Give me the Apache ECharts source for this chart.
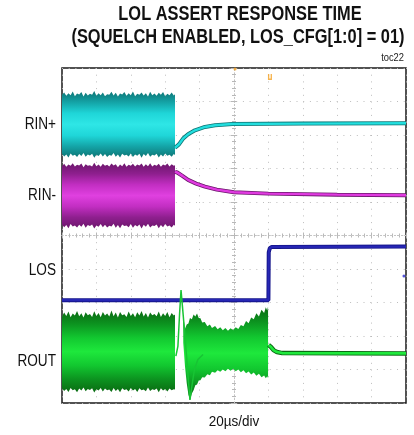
<!DOCTYPE html>
<html>
<head>
<meta charset="utf-8">
<script src="https://cdn.jsdelivr.net/npm/echarts@6/dist/echarts.min.js"></script>
<style>
  html, body { margin: 0; padding: 0; background: #fff; }
  #chart { width: 414px; height: 435px; }
</style>
</head>
<body>
<div id="chart"></div>
<script>
// Time axis: microseconds relative to the trigger (20 µs/div, 10 div)
// Vertical axis: screen divisions (centre line = 0)
const tickStep = 20;

// Noisy input bands before the input is removed
const bandT = [-100,-98.75,-97.5,-96.25,-95,-93.75,-92.5,-91.25,-90,-88.75,-87.5,-86.25,-85,-83.75,-82.5,-81.25,-80,-78.75,-77.5,-76.25,-75,-73.75,-72.5,-71.25,-70,-68.75,-67.5,-66.25,-65,-63.75,-62.5,-61.25,-60,-58.75,-57.5,-56.25,-55,-53.75,-52.5,-51.25,-50,-48.75,-47.5,-46.25,-45,-43.75,-42.5,-41.25,-40,-38.75,-37.5,-36.25,-35,-34.3];
const rinPTop = [4.2,4.27,4.17,4.25,4.19,4.3,4.16,4.24,4.21,4.28, 4.15,4.26,4.18,4.23,4.2,4.31,4.17,4.25,4.19,4.27, 4.16,4.22,4.2,4.29,4.18,4.26,4.15,4.24,4.21,4.28, 4.17,4.25,4.19,4.3,4.16,4.23,4.2,4.27,4.18,4.25, 4.15,4.29,4.19,4.24,4.17,4.26,4.2,4.28,4.16,4.23, 4.19,4.27,4.18,4.22];
const rinPBot = [2.44,2.36,2.42,2.33,2.45,2.38,2.41,2.34,2.43,2.37, 2.46,2.35,2.42,2.39,2.44,2.32,2.41,2.37,2.45,2.36, 2.43,2.34,2.4,2.38,2.46,2.35,2.42,2.33,2.44,2.39, 2.41,2.36,2.45,2.34,2.42,2.38,2.44,2.32,2.43,2.37, 2.46,2.35,2.41,2.39,2.44,2.33,2.42,2.36,2.45,2.38, 2.41,2.35,2.43,2.4];
const rinMTop = [2.07,2.14,2.05,2.12,2.08,2.16,2.06,2.11,2.09,2.15, 2.04,2.13,2.08,2.1,2.06,2.17,2.07,2.12,2.05,2.14, 2.08,2.11,2.06,2.15,2.09,2.13,2.04,2.12,2.07,2.16, 2.05,2.11,2.08,2.14,2.06,2.12,2.09,2.15,2.05,2.13, 2.07,2.16,2.06,2.11,2.08,2.14,2.05,2.12,2.09,2.15, 2.06,2.13,2.08,2.1];
const rinMBot = [0.33,0.25,0.31,0.22,0.34,0.27,0.3,0.24,0.32,0.26, 0.35,0.23,0.31,0.28,0.33,0.21,0.3,0.26,0.34,0.25, 0.32,0.24,0.29,0.27,0.35,0.23,0.31,0.22,0.33,0.28, 0.3,0.25,0.34,0.23,0.31,0.27,0.33,0.21,0.32,0.26, 0.35,0.24,0.3,0.28,0.33,0.22,0.31,0.25,0.34,0.27, 0.3,0.24,0.32,0.29];
const routTop = [-2.42,-2.3,-2.4,-2.27,-2.44,-2.33,-2.39,-2.25,-2.41,-2.32, -2.45,-2.29,-2.38,-2.34,-2.43,-2.26,-2.4,-2.31,-2.44,-2.28, -2.39,-2.33,-2.42,-2.24,-2.41,-2.3,-2.45,-2.28,-2.38,-2.35, -2.43,-2.27,-2.4,-2.32,-2.44,-2.29,-2.39,-2.25,-2.42,-2.31, -2.45,-2.3,-2.38,-2.34,-2.41,-2.27,-2.43,-2.32,-2.4,-2.28, -2.44,-2.31,-2.39,-2.36];
const routBot = [-4.56,-4.64,-4.58,-4.67,-4.55,-4.62,-4.59,-4.68,-4.57,-4.63, -4.54,-4.65,-4.58,-4.61,-4.56,-4.69,-4.59,-4.63,-4.55,-4.66, -4.57,-4.62,-4.6,-4.67,-4.55,-4.64,-4.58,-4.68,-4.56,-4.61, -4.59,-4.66,-4.55,-4.63,-4.58,-4.67,-4.56,-4.62,-4.6,-4.65, -4.54,-4.64,-4.59,-4.61,-4.57,-4.68,-4.56,-4.63,-4.58,-4.66, -4.57,-4.62,-4.59,-4.6];

// Settling of the inputs after the signal is removed
const rinPAfter = [[-34.3,2.62],[-33.5,2.58],[-32,2.72],[-29.5,2.9],[-26.7,3.02],[-22.7,3.14],[-16.9,3.24],[-11,3.29],[-1,3.33],[40,3.34],[100,3.35]];
const rinMAfter = [[-34.3,1.9],[-33,1.88],[-30,1.78],[-26.7,1.66],[-22,1.55],[-16.9,1.46],[-10,1.37],[0,1.29],[20,1.25],[60,1.22],[100,1.2]];

// LOS output
const losTrace = [[-100,-1.93],[20,-1.93],[20.2,-0.5],[20.8,-0.38],[22,-0.34],[100,-0.33]];
const losMarker = [[98.8,-1.21]];

// ROUT: transient when the input disappears, ringing, then squelched level
const routSpike = [[-33.8,-3.6],[-32.6,-3.3],[-31.6,-2.3],[-30.8,-1.63],[-30,-2.1],[-28.5,-3.0],[-26.7,-4.2],[-25.6,-4.91],[-24.5,-4.5],[-23,-4.0],[-21,-3.7],[-18,-3.55]];
const ringT = [-29.5,-28.5,-27.5,-26.5,-25.6,-24.5,-23.5,-22.5,-21.5,-20.5,-19.5,-18.5,-17,-15.5,-14,-12.8,-11,-9.5,-8,-6.5,-5,-3.5,-2,-0.5,1,2.5,4,5.5,7,8.5,10,11.5,13,14.5,16,17.5,18.5,19.3,19.8];
const ringTop = [-2.4,-2.78,-2.66,-2.63,-2.46,-2.5,-2.36,-2.42,-2.33,-2.46, -2.47,-2.6,-2.58,-2.71,-2.66,-2.76,-2.7,-2.8,-2.74,-2.83, -2.76,-2.84,-2.77,-2.83,-2.74,-2.79,-2.67,-2.71,-2.55,-2.62, -2.45,-2.5,-2.32,-2.42,-2.22,-2.31,-2.14,-2.24,-2.12];
const ringBot = [-3.2,-3.9,-4.4,-4.75,-4.91,-4.72,-4.62,-4.47,-4.45,-4.33, -4.32,-4.23,-4.24,-4.14,-4.17,-4.07,-4.1,-4.02,-4.07,-4.0, -4.05,-3.98,-4.04,-3.98,-4.05,-4.0,-4.08,-4.02,-4.11,-4.06, -4.15,-4.09,-4.19,-4.13,-4.23,-4.18,-4.26,-4.2,-4.25];
const routAfter = [[20.1,-3.27],[21.5,-3.33],[23,-3.42],[25,-3.48],[28,-3.51],[100,-3.52]];

// Trigger markers along the top of the screen
const trigPos = [[0.6,4.97]];
const trigLevel = [[20.9,4.73]];

const chart = echarts.init(document.getElementById('chart'), null, { renderer: 'canvas' });

function grad(stops) {
  return new echarts.graphic.LinearGradient(0, 0, 0, 1,
    stops.map((c, i) => ({ offset: i / (stops.length - 1), color: c })));
}

function band(t, top, bot, colors, z) {
  return {
    type: 'custom',
    coordinateSystem: 'cartesian2d',
    silent: true,
    z: z,
    data: [[t[0], top[0]]],
    renderItem: function (params, api) {
      const pts = [];
      for (let i = 0; i < t.length; i++) pts.push(api.coord([t[i], top[i]]));
      for (let i = t.length - 1; i >= 0; i--) pts.push(api.coord([t[i], bot[i]]));
      return { type: 'polygon', shape: { points: pts }, style: { fill: grad(colors), stroke: null } };
    }
  };
}

function trace(data, color, width, z) {
  return {
    type: 'line', data: data, showSymbol: false, silent: true, z: z,
    lineStyle: { color: color, width: width }, animation: false
  };
}

const cyanStops = ['#0e7474', '#14a3a6', '#1fd6d8', '#2ee6e6', '#1fd6d8', '#14a3a6', '#0e7474'];
const magStops = ['#6c176c', '#8e1f8e', '#c22ec2', '#e040e0', '#c22ec2', '#8e1f8e', '#6c176c'];
const grnStops = ['#0a6a12', '#0c9420', '#12c830', '#1ee83c', '#12c830', '#0c9420', '#0a6a12'];

const axisCommon = {
  type: 'value',
  axisLabel: { show: false },
  splitLine: { show: true, lineStyle: { color: '#bdbdbd', width: 1, type: [1, 5.7] } },
  axisLine: { show: true, onZero: true, lineStyle: { color: '#c4c4c4', width: 1, type: [1, 2.5] } },
  axisTick: { show: true, length: 3, lineStyle: { color: '#b8b8b8' } },
  minorTick: { show: true, splitNumber: 5, length: 2, lineStyle: { color: '#b8b8b8' } }
};

const option = {
  animation: false,
  backgroundColor: '#ffffff',
  grid: { left: 62, top: 68, width: 344, height: 335, show: true, borderColor: '#1a1a1a', borderWidth: 1.5, backgroundColor: '#fff' },
  xAxis: [
    Object.assign({}, axisCommon, { min: -100, max: 100, interval: tickStep, position: 'bottom' }),
    Object.assign({}, axisCommon, { min: -100, max: 100, interval: tickStep, position: 'top', splitLine: { show: false } })
  ],
  yAxis: [
    Object.assign({}, axisCommon, { min: -5, max: 5, interval: 1, position: 'left' }),
    Object.assign({}, axisCommon, { min: -5, max: 5, interval: 1, position: 'right', splitLine: { show: false } })
  ],
  series: [
    band(bandT, rinPTop, rinPBot, cyanStops, 3),
    band(bandT, rinMTop, rinMBot, magStops, 3),
    band(bandT, routTop, routBot, grnStops, 3),
    band(ringT, ringTop, ringBot, grnStops, 3),
    trace(rinPAfter, '#0e7474', 4, 4),
    trace(rinPAfter, '#22dede', 2.4, 5),
    trace(rinMAfter, '#6c176c', 4, 4),
    trace(rinMAfter, '#e03ae0', 2.4, 5),
    trace(losTrace, '#14148a', 4, 4),
    trace(losTrace, '#2626b4', 2.2, 5),
    trace(routSpike, '#18c434', 1.5, 5),
    trace(routAfter, '#0a6a12', 4.5, 4),
    trace(routAfter, '#1ee83c', 2.6, 5),
    { type: 'scatter', data: losMarker, symbol: 'circle', symbolSize: 3, itemStyle: { color: '#2a2ad0' }, silent: true, z: 6 },
    { type: 'scatter', data: trigPos, symbol: 'circle', symbolSize: 3, itemStyle: { color: '#f4a020' }, silent: true, z: 6 },
    { type: 'scatter', data: trigLevel, symbol: 'path://M0,0 L2,0 L2,6 L4,6 L4,0 L6,0 L6,8 L0,8 Z', symbolSize: [4, 6], itemStyle: { color: '#f4a020' }, silent: true, z: 6 }
  ],
  graphic: [
    { type: 'text', x: 240, y: 14, scaleX: 0.82, style: { text: 'LOL ASSERT RESPONSE TIME', font: 'bold 20px "Liberation Sans", Arial, sans-serif', fill: '#111', textAlign: 'center', textVerticalAlign: 'middle' } },
    { type: 'text', x: 238, y: 37, scaleX: 0.82, style: { text: '(SQUELCH ENABLED, LOS_CFG[1:0] = 01)', font: 'bold 20px "Liberation Sans", Arial, sans-serif', fill: '#111', textAlign: 'center', textVerticalAlign: 'middle' } },
    { type: 'text', x: 404, y: 58, scaleX: 0.85, style: { text: 'toc22', font: '11px "Liberation Sans", Arial, sans-serif', fill: '#222', textAlign: 'right', textVerticalAlign: 'middle' } },
    { type: 'text', x: 56, y: 125, scaleX: 0.85, style: { text: 'RIN+', font: '16px "Liberation Sans", Arial, sans-serif', fill: '#111', textAlign: 'right', textVerticalAlign: 'middle' } },
    { type: 'text', x: 56, y: 196, scaleX: 0.85, style: { text: 'RIN-', font: '16px "Liberation Sans", Arial, sans-serif', fill: '#111', textAlign: 'right', textVerticalAlign: 'middle' } },
    { type: 'text', x: 56, y: 271, scaleX: 0.85, style: { text: 'LOS', font: '16px "Liberation Sans", Arial, sans-serif', fill: '#111', textAlign: 'right', textVerticalAlign: 'middle' } },
    { type: 'text', x: 56, y: 362, scaleX: 0.85, style: { text: 'ROUT', font: '16px "Liberation Sans", Arial, sans-serif', fill: '#111', textAlign: 'right', textVerticalAlign: 'middle' } },
    { type: 'text', x: 234, y: 422, scaleX: 0.9, style: { text: '20µs/div', font: '15px "Liberation Sans", Arial, sans-serif', fill: '#111', textAlign: 'center', textVerticalAlign: 'middle' } }
  ]
};

chart.setOption(option);
</script>
</body>
</html>
